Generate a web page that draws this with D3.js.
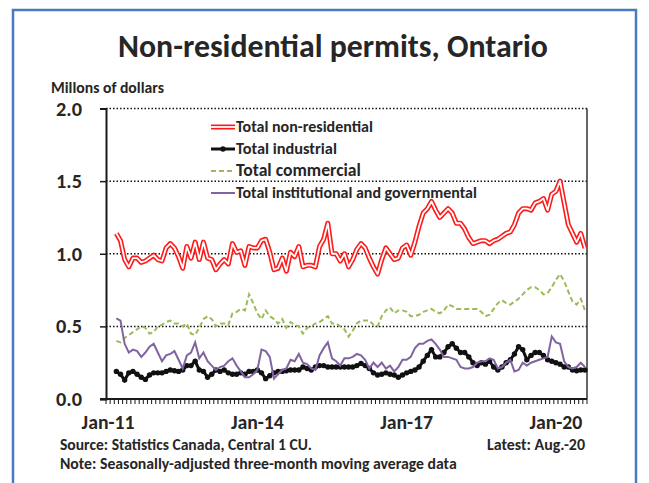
<!DOCTYPE html>
<html>
<head>
<meta charset="utf-8">
<script src="https://cdn.jsdelivr.net/npm/d3@7"></script>
<style>
  body { margin: 0; background: #fff; }
  text { font-family: Carlito, Calibri, Lato, "Open Sans", sans-serif; font-weight: bold; fill: #262626; }
</style>
</head>
<body>
<svg id="chart" width="649" height="483"></svg>
<script>
// months Jan-11 .. Aug-20, the 3-month moving average starts in Mar-11
const months = [];
for (let y = 2011; y <= 2020; y++) {
    for (let m = 0; m < 12; m++) {
        if (y == 2020 && m > 7) break;
        months.push(y + '-' + (m + 1));
    }
}
const xTickLabels = ['Jan-11', 'Jan-14', 'Jan-17', 'Jan-20'];
const xTickMonths = ['2011-1', '2014-1', '2017-1', '2020-1'];
const yTicks = [0, 0.5, 1.0, 1.5, 2.0];

const nonResidential = [null, null,
    1.14, 1.09, 0.96, 0.91, 0.97, 0.97, 0.94, 0.95, 0.97, 0.99, 0.96, 0.95, 1.04, 1.07, 1.04, 0.98, 0.90, 1.05,
    0.97, 1.08, 0.96, 1.08, 0.97, 0.96, 0.89, 0.93, 0.96, 0.93, 1.07, 1.01, 1.02, 0.92, 1.05, 1.04, 1.04, 1.09,
    1.10, 1.01, 0.89, 0.90, 0.97, 0.88, 1.01, 0.98, 1.05, 0.91, 0.92, 0.92, 0.91, 1.05, 1.10, 1.21, 1.00, 1.00,
    0.95, 1.00, 0.91, 0.96, 1.03, 1.07, 1.04, 0.97, 0.91, 0.86, 0.96, 1.04, 1.00, 0.96, 0.97, 1.04, 1.06, 0.99,
    1.08, 1.19, 1.28, 1.31, 1.36, 1.30, 1.25, 1.28, 1.31, 1.28, 1.21, 1.21, 1.17, 1.11, 1.07, 1.08, 1.09, 1.09,
    1.07, 1.09, 1.10, 1.12, 1.14, 1.15, 1.20, 1.28, 1.31, 1.31, 1.30, 1.35, 1.36, 1.38, 1.30, 1.41, 1.43, 1.50,
    1.35, 1.20, 1.14, 1.08, 1.14, 1.04];
const industrial = [null, null,
    0.19, 0.17, 0.13, 0.18, 0.19, 0.17, 0.15, 0.135, 0.165, 0.18, 0.18, 0.18, 0.19, 0.20, 0.195, 0.19, 0.20, 0.23,
    0.23, 0.26, 0.20, 0.19, 0.15, 0.17, 0.20, 0.19, 0.20, 0.18, 0.17, 0.17, 0.18, 0.17, 0.19, 0.19, 0.20, 0.18,
    0.14, 0.16, 0.18, 0.19, 0.19, 0.195, 0.20, 0.20, 0.20, 0.22, 0.21, 0.20, 0.22, 0.23, 0.23, 0.22, 0.22, 0.22,
    0.22, 0.22, 0.22, 0.22, 0.23, 0.245, 0.23, 0.21, 0.18, 0.165, 0.17, 0.18, 0.17, 0.165, 0.15, 0.165, 0.18, 0.19,
    0.20, 0.22, 0.26, 0.30, 0.34, 0.29, 0.29, 0.32, 0.36, 0.38, 0.35, 0.32, 0.32, 0.29, 0.25, 0.23, 0.25, 0.24,
    0.26, 0.22, 0.20, 0.22, 0.25, 0.27, 0.31, 0.36, 0.34, 0.27, 0.30, 0.32, 0.32, 0.30, 0.27, 0.26, 0.25, 0.24,
    0.22, 0.22, 0.20, 0.195, 0.20, 0.20];
const commercial = [null, null,
    0.40, 0.39, 0.42, 0.44, 0.46, 0.48, 0.50, 0.49, 0.45, 0.46, 0.50, 0.51, 0.53, 0.54, 0.52, 0.52, 0.50, 0.52,
    0.45, 0.44, 0.49, 0.55, 0.57, 0.55, 0.50, 0.52, 0.52, 0.51, 0.59, 0.60, 0.62, 0.61, 0.72, 0.66, 0.59, 0.55,
    0.61, 0.57, 0.55, 0.52, 0.55, 0.49, 0.53, 0.51, 0.50, 0.45, 0.49, 0.50, 0.52, 0.53, 0.55, 0.57, 0.52, 0.52,
    0.50, 0.48, 0.43, 0.47, 0.52, 0.54, 0.54, 0.54, 0.51, 0.50, 0.57, 0.61, 0.63, 0.59, 0.61, 0.61, 0.60, 0.57,
    0.57, 0.58, 0.60, 0.61, 0.62, 0.60, 0.59, 0.61, 0.65, 0.64, 0.62, 0.62, 0.62, 0.62, 0.62, 0.62, 0.60, 0.57,
    0.58, 0.62, 0.66, 0.68, 0.66, 0.65, 0.67, 0.69, 0.72, 0.75, 0.77, 0.77, 0.75, 0.72, 0.73, 0.77, 0.82, 0.86,
    0.81, 0.74, 0.67, 0.65, 0.69, 0.61];
const institutional = [null, null,
    0.555, 0.54, 0.38, 0.32, 0.34, 0.33, 0.29, 0.32, 0.36, 0.38, 0.32, 0.26, 0.30, 0.31, 0.33, 0.27, 0.21, 0.30,
    0.32, 0.39, 0.28, 0.32, 0.26, 0.23, 0.20, 0.22, 0.23, 0.26, 0.28, 0.23, 0.19, 0.15, 0.15, 0.17, 0.20, 0.34,
    0.33, 0.29, 0.14, 0.17, 0.20, 0.21, 0.27, 0.26, 0.31, 0.25, 0.24, 0.21, 0.20, 0.30, 0.35, 0.39, 0.28, 0.26,
    0.23, 0.28, 0.28, 0.29, 0.31, 0.30, 0.27, 0.21, 0.25, 0.22, 0.25, 0.21, 0.23, 0.19, 0.22, 0.27, 0.27, 0.29,
    0.35, 0.38, 0.38, 0.40, 0.41, 0.38, 0.34, 0.29, 0.29, 0.28, 0.27, 0.22, 0.21, 0.21, 0.22, 0.25, 0.26, 0.26,
    0.28, 0.27, 0.21, 0.22, 0.25, 0.27, 0.19, 0.20, 0.25, 0.23, 0.25, 0.26, 0.27, 0.28, 0.29, 0.43, 0.39, 0.38,
    0.26, 0.22, 0.21, 0.22, 0.25, 0.22];

const seriesNames = ['Total non-residential', 'Total industrial', 'Total commercial', 'Total institutional and governmental'];

const svg = d3.select('#chart');
const plot = {left: 106, right: 587, top: 108.5, bottom: 399};

// fit a text to a width by changing its font-size
function fit(sel, w) {
    let fs = parseFloat(sel.attr('font-size'));
    let len = sel.node().getComputedTextLength();
    sel.attr('font-size', fs * w / len);
    return sel;
}

// blue frame
svg.append('rect').attr('x', 13).attr('y', 10).attr('width', 623).attr('height', 520)
    .attr('fill', 'none').attr('stroke', '#4a7ac4').attr('stroke-width', 2.5);

fit(svg.append('text').attr('x', 333).attr('y', 57).attr('text-anchor', 'middle')
    .attr('font-size', 30).attr('fill', '#1a1a1a').text('Non-residential permits, Ontario'), 430);
fit(svg.append('text').attr('x', 51).attr('y', 93).attr('font-size', 13).text('Millons of dollars'), 113);

const x = d3.scaleBand().domain(months).range([plot.left, plot.right]).paddingInner(0).paddingOuter(0);
const y = d3.scaleLinear().domain([0, 2]).range([plot.bottom, plot.top]);
const cx = m => x(m) + x.bandwidth() / 2;

// dotted gridlines
svg.append('g').selectAll('line').data(yTicks.filter(d => d > 0)).enter()
    .append('line')
    .attr('x1', plot.left).attr('x2', plot.right)
    .attr('y1', d => y(d)).attr('y2', d => y(d))
    .attr('stroke', '#111').attr('stroke-width', 1.5).attr('stroke-dasharray', '1.5,2');

// y axis
const yAxis = svg.append('g').attr('transform', `translate(${plot.left},0)`)
    .call(d3.axisLeft(y).tickValues(yTicks).tickSize(6).tickPadding(18).tickFormat(d3.format('.1f')));
yAxis.select('.domain').attr('stroke', '#1a1a1a').attr('stroke-width', 2);
yAxis.selectAll('.tick line').attr('stroke', '#1a1a1a').attr('stroke-width', 1.5);
yAxis.selectAll('.tick text').attr('font-size', 17).attr('fill', '#1a1a1a')
    .style('font-family', 'Carlito, Calibri, Lato, sans-serif')
    .each(function () { fit(d3.select(this), 26); });

// right frame line
svg.append('line').attr('x1', plot.right).attr('x2', plot.right).attr('y1', plot.top).attr('y2', plot.bottom)
    .attr('stroke', '#333').attr('stroke-width', 1.5);

// x axis: one small tick per month between categories
svg.append('g').selectAll('line').data(months.concat(['end'])).enter()
    .append('line')
    .attr('x1', d => d == 'end' ? plot.right : x(d)).attr('x2', d => d == 'end' ? plot.right : x(d))
    .attr('y1', plot.bottom).attr('y2', plot.bottom + 5)
    .attr('stroke', '#1a1a1a').attr('stroke-width', 1);
svg.append('line').attr('x1', plot.left - 6).attr('x2', plot.right).attr('y1', plot.bottom).attr('y2', plot.bottom)
    .attr('stroke', '#1a1a1a').attr('stroke-width', 2);

const xAxis = svg.append('g').attr('transform', `translate(0,${plot.bottom})`)
    .call(d3.axisBottom(x).tickValues(xTickMonths).tickSize(0).tickPadding(16)
        .tickFormat((d, i) => xTickLabels[i]));
xAxis.select('.domain').remove();
xAxis.selectAll('.tick text').attr('font-size', 17).attr('fill', '#1a1a1a')
    .style('font-family', 'Carlito, Calibri, Lato, sans-serif')
    .each(function () { fit(d3.select(this), 53); });

// series
const line = d3.line().defined(d => d.v != null).x(d => cx(d.m)).y(d => y(d.v));
const pts = arr => arr.map((v, i) => ({m: months[i], v: v}));

const g = svg.append('g');
g.append('path').attr('d', line(pts(nonResidential))).attr('fill', 'none')
    .attr('stroke', '#ff1a1a').attr('stroke-width', 5).attr('stroke-linejoin', 'round');
g.append('path').attr('d', line(pts(nonResidential))).attr('fill', 'none')
    .attr('stroke', '#fff').attr('stroke-width', 1.8).attr('stroke-linejoin', 'round');

g.append('path').attr('d', line(pts(industrial))).attr('fill', 'none')
    .attr('stroke', '#111').attr('stroke-width', 3);
g.selectAll('.ind').data(pts(industrial).filter(d => d.v != null)).enter()
    .append('circle').attr('class', 'ind')
    .attr('cx', d => cx(d.m)).attr('cy', d => y(d.v)).attr('r', 2.7).attr('fill', '#111');

g.append('path').attr('d', line(pts(commercial))).attr('fill', 'none')
    .attr('stroke', '#9bbb59').attr('stroke-width', 2).attr('stroke-dasharray', '5,3');

g.append('path').attr('d', line(pts(institutional))).attr('fill', 'none')
    .attr('stroke', '#8064a2').attr('stroke-width', 2);

// legend
const leg = svg.append('g');
const ly = [127, 149, 171, 193];
leg.append('line').attr('x1', 211).attr('x2', 235).attr('y1', ly[0]).attr('y2', ly[0])
    .attr('stroke', '#ff1a1a').attr('stroke-width', 5);
leg.append('line').attr('x1', 211).attr('x2', 235).attr('y1', ly[0]).attr('y2', ly[0])
    .attr('stroke', '#fff').attr('stroke-width', 1.8);
leg.append('line').attr('x1', 211).attr('x2', 235).attr('y1', ly[1]).attr('y2', ly[1])
    .attr('stroke', '#111').attr('stroke-width', 3);
leg.append('circle').attr('cx', 223).attr('cy', ly[1]).attr('r', 2.7).attr('fill', '#111');
leg.append('line').attr('x1', 211).attr('x2', 235).attr('y1', ly[2]).attr('y2', ly[2])
    .attr('stroke', '#9bbb59').attr('stroke-width', 2).attr('stroke-dasharray', '5,3');
leg.append('line').attr('x1', 211).attr('x2', 235).attr('y1', ly[3]).attr('y2', ly[3])
    .attr('stroke', '#8064a2').attr('stroke-width', 2);
const legW = [137, 101, 125, 241];
seriesNames.forEach((n, i) => {
    fit(leg.append('text').attr('x', 236).attr('y', ly[i] + 5).attr('font-size', 14).text(n), legW[i]);
});

// notes
fit(svg.append('text').attr('x', 60).attr('y', 450).attr('font-size', 12)
    .text('Source: Statistics Canada, Central 1 CU.'), 252);
fit(svg.append('text').attr('x', 585).attr('y', 450).attr('font-size', 12).attr('text-anchor', 'end')
    .text('Latest: Aug.-20'), 98);
fit(svg.append('text').attr('x', 60).attr('y', 469).attr('font-size', 12)
    .text('Note: Seasonally-adjusted three-month moving average data'), 397);
</script>
</body>
</html>
